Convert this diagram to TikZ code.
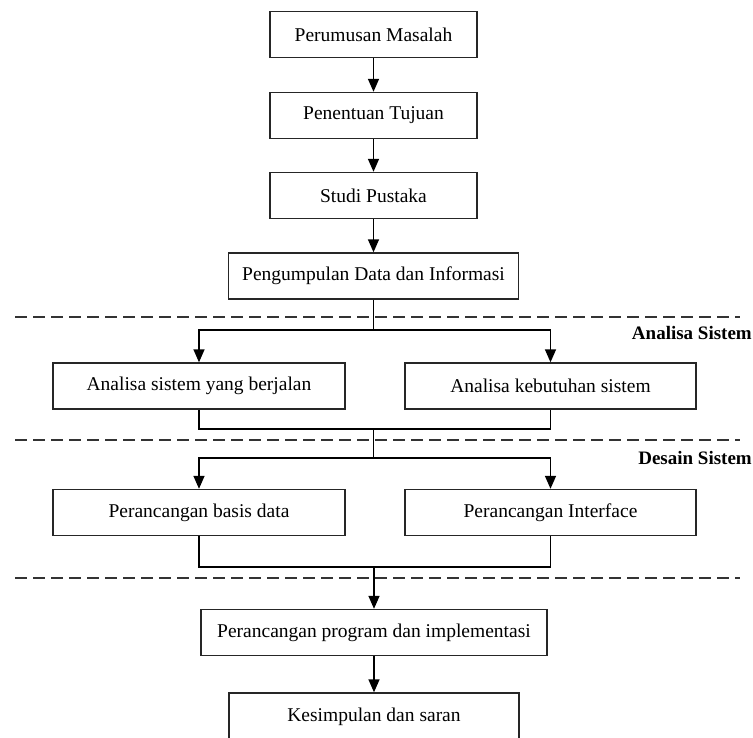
\documentclass[tikz,border=0pt]{standalone}
\usepackage{fontspec}
\setmainfont{Liberation Serif}
\usetikzlibrary{arrows.meta}

\begin{document}
\begin{tikzpicture}[x=1pt,y=-1pt,
	box/.style={rectangle, draw=black!85, line width=1.4pt, minimum height=46pt, inner sep=2pt, font=\fontsize{19.5}{22}\selectfont},
	arr/.style={-{Triangle[length=13pt,width=11pt]}, line width=1.5pt},
	ln/.style={line width=1.5pt},
	sep/.style={dash pattern=on 12pt off 6pt, line width=1.6pt, black!80},
	lbl/.style={anchor=east, inner sep=1pt, font=\fontsize{19}{22}\selectfont\bfseries}]
	
	\clip (0,0) rectangle (753,737);
	
	% alur awal
	\node [box, minimum width=207pt] (masalah) at (373.5,34.5) {Perumusan Masalah};
	\node [box, minimum width=207pt] (tujuan) at (373.5,115.5) {Penentuan Tujuan};
	\node [box, minimum width=207pt] (pustaka) at (373.5,195.5) {Studi Pustaka};
	\node [box, minimum width=290pt] (data) at (373.5,276) {Pengumpulan Data dan Informasi};
	
	% analisa
	\node [box, minimum width=292pt] (berjalan) at (199,386) {Analisa sistem yang berjalan};
	\node [box, minimum width=291pt] (kebutuhan) at (550.5,386) {Analisa kebutuhan sistem};
	\node [lbl] (analisa) at (753,333) {Analisa Sistem};
	
	% desain
	\node [box, minimum width=292pt] (basis) at (199,512.5) {Perancangan basis data};
	\node [box, minimum width=291pt] (interface) at (550.5,512.5) {Perancangan Interface};
	\node [lbl] (desain) at (753,458) {Desain Sistem};
	
	% akhir
	\node [box, minimum width=346pt] (program) at (374,632.5) {Perancangan program dan implementasi};
	\node [box, minimum width=290pt, minimum height=47pt] (kesimpulan) at (374,716.5) {Kesimpulan dan saran};
	
	\coordinate (b1) at (373.5,330);
	\coordinate (j1) at (373.5,429);
	\coordinate (b2) at (373.5,458);
	\coordinate (j2) at (374,567);
	
	% garis pemisah
	\draw [sep] (15,317) -- (740,317);
	\draw [sep] (15,440) -- (740,440);
	\draw [sep] (15,578) -- (740,578);
	
	\draw [arr] (masalah) -- (tujuan);
	\draw [arr] (tujuan) -- (pustaka);
	\draw [arr] (pustaka) -- (data);
	\draw [ln] (data) -- (b1);
	\draw [arr] (b1) -| (berjalan);
	\draw [arr] (b1) -| (kebutuhan);
	\draw [ln] (berjalan) |- (j1) -| (kebutuhan);
	\draw [ln] (j1) -- (b2);
	\draw [arr] (b2) -| (basis);
	\draw [arr] (b2) -| (interface);
	\draw [ln] (basis) |- (j2) -| (interface);
	\draw [arr] (j2) -- (program);
	\draw [arr] (program) -- (kesimpulan);
	
\end{tikzpicture}
\end{document}
